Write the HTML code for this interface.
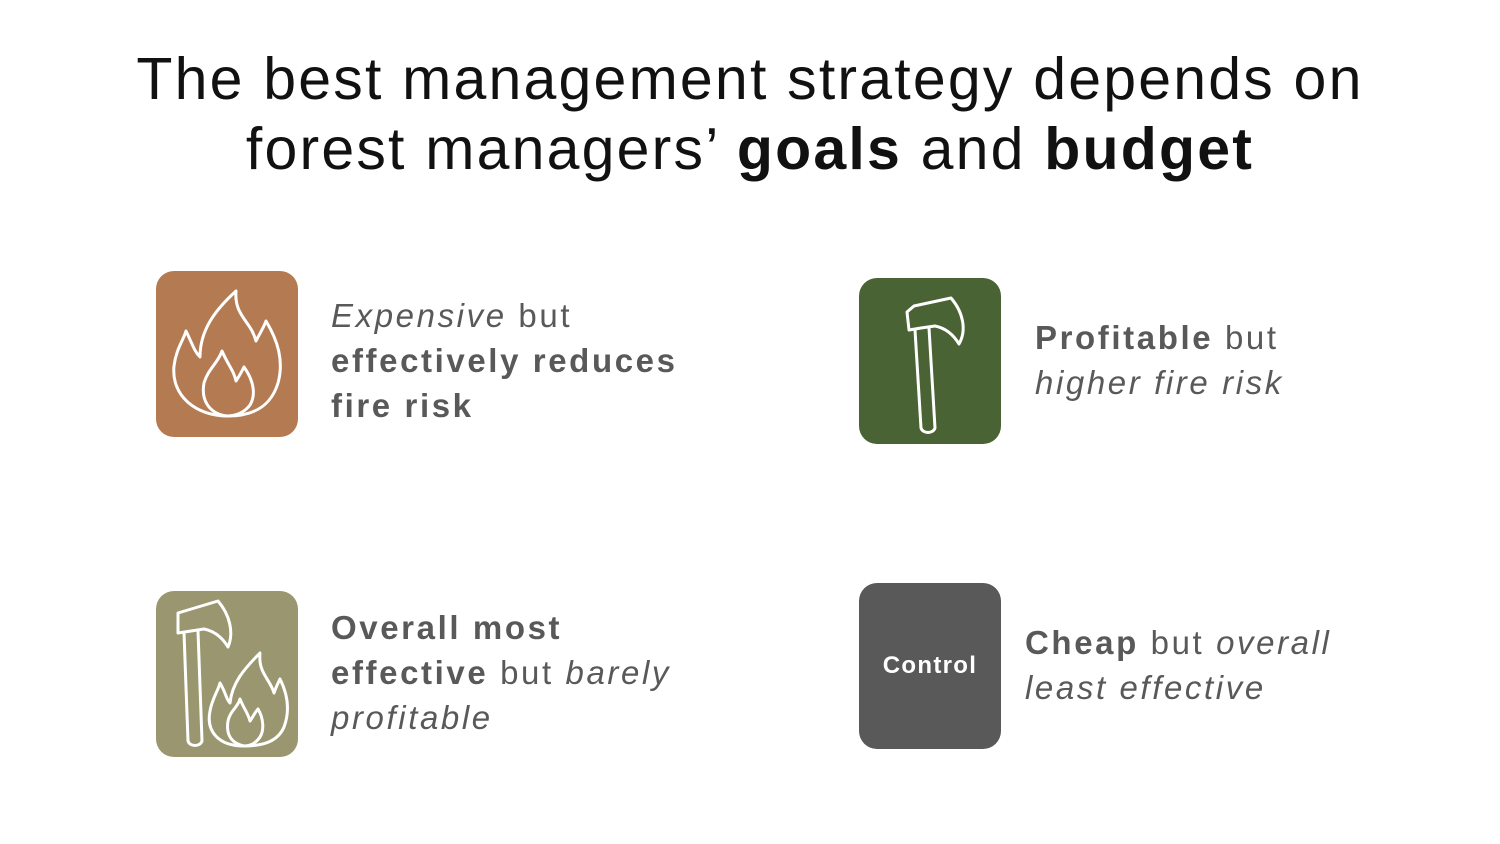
<!DOCTYPE html>
<html><head><meta charset="utf-8"><style>
body{margin:0;width:1500px;height:844px;background:#fff;position:relative;overflow:hidden;font-family:"Liberation Sans",sans-serif}
.title{position:absolute;left:0;top:44px;width:1500px;text-align:center;font-size:59px;line-height:70px;color:#111;letter-spacing:2.2px}
.box{position:absolute;width:142px;height:166px;border-radius:18px}
.txt{position:absolute;font-size:33px;line-height:45px;color:#595959;letter-spacing:2.6px;white-space:nowrap}
.txt b{font-weight:bold}
</style></head><body>
<div class="title">The best management strategy depends on<br>forest managers’ <b>goals</b> and <b>budget</b></div>

<div class="box" style="left:156px;top:271px;background:#b47a52">
<svg width="142" height="166" viewBox="0 0 142 166" fill="none" stroke="#fff" stroke-width="3" stroke-linejoin="round">
<path d="M72 145 C40 145 15 125 18 95 C20 78 28 68 30 60 C36 72 38 80 44 86 C44 60 58 40 80 20 C78 45 95 50 100 70 C104 62 108 56 110 50 C122 70 128 90 122 112 C115 135 98 145 72 145Z"/>
<path d="M70 145 C52 142 45 128 48 112 C52 98 62 92 66 80 C72 94 78 100 80 110 C84 104 86 100 88 96 C98 110 100 124 94 134 C88 142 80 145 70 145Z"/>
</svg></div>
<div class="txt" style="left:331px;top:293px"><i>Expensive</i> but<br><b>effectively reduces<br>fire risk</b></div>

<div class="box" style="left:859px;top:278px;background:#4a6335">
<svg width="142" height="166" viewBox="0 0 142 166" fill="none" stroke="#fff" stroke-width="3" stroke-linejoin="round">
<path d="M55 28 L92 20 C104 34 108 52 100 66 C94 56 86 50 76 48 L62 50 L50 52 L48 34 Z"/>
<path d="M56 52 L62 150 C64 156 74 156 76 150 L70 50"/>
</svg></div>
<div class="txt" style="left:1035px;top:315px"><b>Profitable</b> but<br><i>higher fire risk</i></div>

<div class="box" style="left:156px;top:591px;background:#9a9670">
<svg width="142" height="166" viewBox="0 0 142 166" fill="none" stroke="#fff" stroke-width="3" stroke-linejoin="round">
<path d="M22 22 L62 10 C74 24 78 42 72 56 C66 46 58 40 48 38 L22 42 Z"/>
<path d="M28 42 L32 150 C34 156 44 156 46 150 L42 40"/>
<path d="M88 155 C62 155 50 140 54 120 C56 108 62 100 64 92 C70 102 70 108 74 112 C76 92 88 78 104 62 C102 82 114 88 118 102 C120 96 122 92 124 88 C132 104 134 120 128 136 C122 150 108 155 88 155Z"/>
<path d="M88 155 C74 152 70 142 72 130 C74 120 82 116 84 108 C88 118 92 122 94 130 C98 124 100 120 102 118 C108 128 108 140 104 146 C100 152 94 155 88 155Z"/>
</svg></div>
<div class="txt" style="left:331px;top:605px"><b>Overall most<br>effective</b> but <i>barely<br>profitable</i></div>

<div class="box" style="left:859px;top:583px;background:#595959;color:#fff;font-weight:bold;font-size:24px;display:flex;align-items:center;justify-content:center;letter-spacing:1.3px">Control</div>
<div class="txt" style="left:1025px;top:620px"><b>Cheap</b> but <i>overall<br>least effective</i></div>
</body></html>
